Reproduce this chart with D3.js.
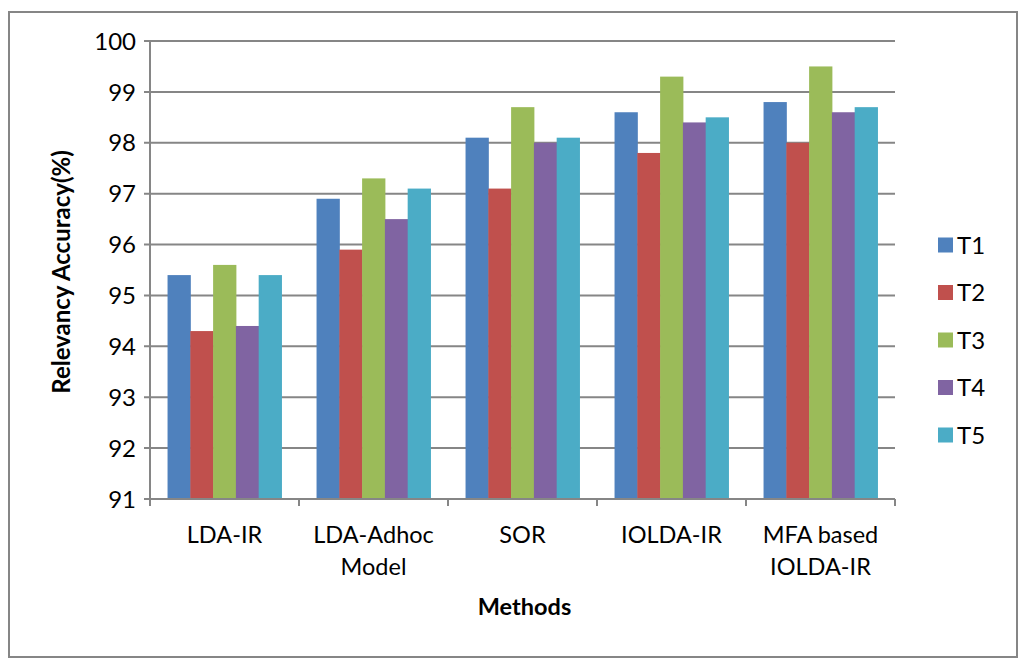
<!DOCTYPE html>
<html>
<head>
<meta charset="utf-8">
<script src="https://cdn.jsdelivr.net/npm/d3@7"></script>
<style>
  html, body { margin: 0; padding: 0; background: #fff; }
  svg text { font-family: Lato, "Open Sans", sans-serif; fill: #000; }
</style>
</head>
<body>
<svg id="chart" width="1023" height="666"></svg>
<script>
// ─── data ─────────────────────────────────────
const METHODS = [["LDA-IR"], ["LDA-Adhoc", "Model"], ["SOR"], ["IOLDA-IR"], ["MFA based", "IOLDA-IR"]];
const SERIES = ["T1", "T2", "T3", "T4", "T5"];
const T1 = [95.4, 96.9, 98.1, 98.6, 98.8];
const T2 = [94.3, 95.9, 97.1, 97.8, 98.0];
const T3 = [95.6, 97.3, 98.7, 99.3, 99.5];
const T4 = [94.4, 96.5, 98.0, 98.4, 98.6];
const T5 = [95.4, 97.1, 98.1, 98.5, 98.7];
const Y_TICKS = [91, 92, 93, 94, 95, 96, 97, 98, 99, 100];

const COLORS = ["#4f81bd", "#c0504d", "#9bbb59", "#8064a2", "#4bacc6"];
const GRID = "#868686";

const svg = d3.select("#chart");

// outer frame
svg.append("rect")
  .attr("x", 9).attr("y", 12).attr("width", 1008).attr("height", 645)
  .attr("fill", "#fff").attr("stroke", GRID).attr("stroke-width", 2);

const plot = { left: 150, right: 895, top: 41, bottom: 499 };

const y = d3.scaleLinear().domain([91, 100]).range([plot.bottom, plot.top]);
const x0 = d3.scaleBand().domain(d3.range(METHODS.length)).range([plot.left, plot.right]);
const x1 = d3.scaleBand().domain(SERIES)
  .range([0, x0.bandwidth()]).paddingOuter(0.77).paddingInner(0);

const values = [T1, T2, T3, T4, T5];

// gridlines
svg.append("g")
  .selectAll("line")
  .data(Y_TICKS)
  .join("line")
    .attr("x1", plot.left - 6).attr("x2", plot.right)
    .attr("y1", d => y(d)).attr("y2", d => y(d))
    .attr("stroke", GRID).attr("stroke-width", 2);

// bars
const groups = svg.append("g")
  .selectAll("g")
  .data(METHODS.map((m, i) => i))
  .join("g")
    .attr("transform", i => `translate(${x0(i)},0)`);

groups.selectAll("rect")
  .data(i => SERIES.map((s, k) => ({ s, v: values[k][i], k })))
  .join("rect")
    .attr("x", d => x1(d.s))
    .attr("width", x1.bandwidth() + 0.5)
    .attr("y", d => y(d.v))
    .attr("height", d => y(91) - y(d.v))
    .attr("fill", d => COLORS[d.k]);

// y axis
svg.append("line")
  .attr("x1", plot.left).attr("x2", plot.left)
  .attr("y1", plot.top).attr("y2", plot.bottom)
  .attr("stroke", GRID).attr("stroke-width", 2);

svg.append("g")
  .selectAll("text")
  .data(Y_TICKS)
  .join("text")
    .attr("x", plot.left - 14)
    .attr("y", d => y(d))
    .attr("dy", "0.36em")
    .attr("text-anchor", "end")
    .attr("font-size", 24)
    .text(d => d);

// x axis + category ticks
svg.append("line")
  .attr("x1", plot.left).attr("x2", plot.right)
  .attr("y1", plot.bottom).attr("y2", plot.bottom)
  .attr("stroke", GRID).attr("stroke-width", 2);

svg.append("g")
  .selectAll("line")
  .data(d3.range(METHODS.length + 1))
  .join("line")
    .attr("x1", i => plot.left + i * x0.bandwidth())
    .attr("x2", i => plot.left + i * x0.bandwidth())
    .attr("y1", plot.bottom).attr("y2", plot.bottom + 7)
    .attr("stroke", GRID).attr("stroke-width", 2);

const xl = svg.append("g")
  .selectAll("text")
  .data(METHODS)
  .join("text")
    .attr("x", (d, i) => x0(i) + x0.bandwidth() / 2)
    .attr("y", 543)
    .attr("text-anchor", "middle")
    .attr("font-size", 23.5);
xl.selectAll("tspan")
  .data(d => d)
  .join("tspan")
    .attr("x", function() { return this.parentNode.getAttribute("x"); })
    .attr("dy", (d, j) => j === 0 ? 0 : 32)
    .text(d => d);

// axis titles
svg.append("text")
  .attr("x", (plot.left + plot.right) / 2 + 2)
  .attr("y", 615)
  .attr("text-anchor", "middle")
  .attr("font-size", 23.5)
  .attr("font-weight", "bold")
  .text("Methods");

svg.append("text")
  .attr("transform", `translate(70,${(plot.top + plot.bottom) / 2 + 2}) rotate(-90)`)
  .attr("text-anchor", "middle")
  .attr("font-size", 24)
  .attr("font-weight", "bold")
  .text("Relevancy Accuracy(%)");

// legend
const leg = svg.append("g")
  .selectAll("g")
  .data(SERIES)
  .join("g")
    .attr("transform", (d, i) => `translate(938,${245 + i * 47.5})`);
leg.append("rect")
  .attr("x", 0).attr("y", -7.5).attr("width", 15).attr("height", 15)
  .attr("fill", (d, i) => COLORS[i]);
leg.append("text")
  .attr("x", 19).attr("dy", "0.36em")
  .attr("font-size", 24)
  .text(d => d);
</script>
</body>
</html>
